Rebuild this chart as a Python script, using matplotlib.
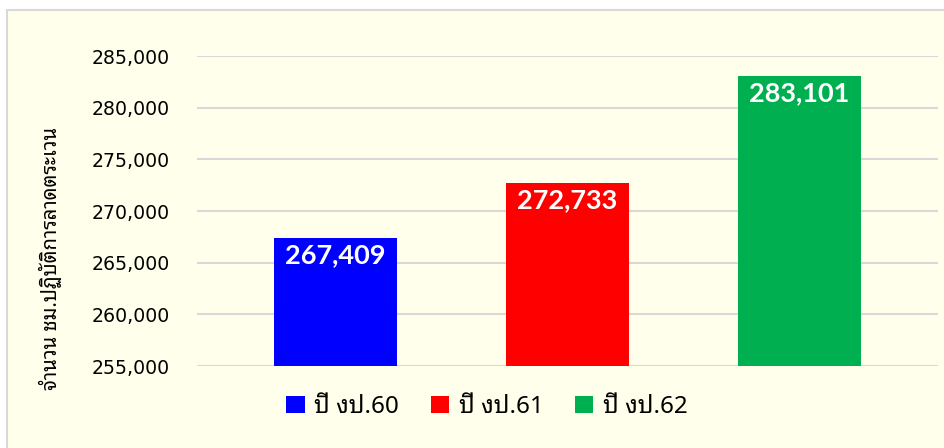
import matplotlib
matplotlib.use("Agg")
import matplotlib.pyplot as plt
from matplotlib.patches import Rectangle
from matplotlib.ticker import FuncFormatter

# --- données ---
years = ["ปี งป.60", "ปี งป.61", "ปี งป.62"]
hours = [267409, 272733, 283101]
colors = ["#0000FF", "#FF0000", "#00B050"]
y_ticks = [255000, 260000, 265000, 270000, 275000, 280000, 285000]
y_label = "จำนวน ชม.ปฏิบัติการลาดตระเวน"

THAI = ["Noto Sans Thai Looped", "Noto Sans Thai", "Tahoma", "Loma", "Garuda",
        "Noto Sans", "DejaVu Sans"]
plt.rcParams["font.family"] = THAI

fig = plt.figure(figsize=(9.45, 4.48), dpi=100, facecolor="white")

# cadre du graphique (fond crème + bordure grise)
fig.patches.append(Rectangle((7 / 945, -0.05), 1.1, 1 - 10 / 448 + 0.05,
                             transform=fig.transFigure, facecolor="#FFFFEB",
                             edgecolor="#D9D9D9", linewidth=1.5, zorder=-5))

ax = fig.add_axes([197 / 945, 1 - 366 / 448, (938 - 197) / 945, (366 - 56) / 448])
ax.set_facecolor("none")
ax.set_zorder(2)

x = range(len(years))
bars = ax.bar(x, hours, width=0.53, color=colors, zorder=3, label=years)

for b, v in zip(bars, hours):
    ax.annotate(f"{v:,}", (b.get_x() + b.get_width() / 2, v),
                xytext=(0, -4), textcoords="offset points",
                ha="center", va="top", color="white", fontsize=19.5,
                fontweight="bold", family=["Lato", "DejaVu Sans"], zorder=4)

ax.set_xlim(-0.597, 2.597)
ax.set_ylim(255000, 285000)
ax.set_yticks(y_ticks)
ax.yaxis.set_major_formatter(FuncFormatter(lambda v, p: f"{int(v):,}"))
ax.set_xticks([])
ax.tick_params(axis="y", length=0, pad=19.5, labelsize=13.6)
for lbl in ax.get_yticklabels():
    lbl.set_family("DejaVu Sans")
ax.grid(axis="y", color="#D9D9D9", linewidth=1.5, zorder=0)
for s in ax.spines.values():
    s.set_visible(False)

fig.text(50 / 945, 1 - 258 / 448, y_label, rotation=90, ha="center",
         va="center", fontsize=14.5)

fig.legend(bars, years, loc="center", bbox_to_anchor=(487 / 945, 1 - 407 / 448),
           ncol=3, frameon=False, fontsize=17.5, handlelength=0.75,
           handleheight=0.75, handletextpad=0.4, columnspacing=1.3)

fig.savefig("out.png", dpi=100, facecolor="white")
